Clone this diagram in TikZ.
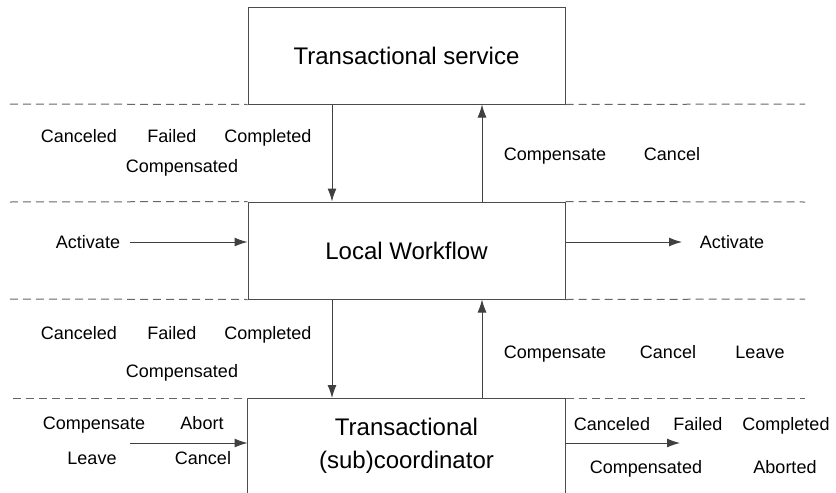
\documentclass[tikz,border=0pt]{standalone}
\usepackage{fontspec}
\setmainfont{Liberation Sans}
\usetikzlibrary{arrows.meta}
\begin{document}
\begin{tikzpicture}[
    x=0.5pt, y=-0.5pt, line width=0.5pt,
    box/.style={draw=black!70, minimum width=158.5pt, minimum height=48.5pt,
      font=\fontsize{12}{16.5}\selectfont},
    lbl/.style={font=\fontsize{9}{11}\selectfont, text height=6.5pt, text depth=0.5pt},
    sep/.style={draw=black!60, dash pattern=on 4pt off 2.5pt},
    flow/.style={draw=black!75, -{Latex[length=6.5pt,width=4.5pt]}}
]
  \useasboundingbox[fill=white] (0,0) rectangle (836,493);

  \node[box] (ts) at (406.5,55.5) {Transactional service};
  \node[box] (lw) at (406.5,250.5) {Local Workflow};
  % open at the bottom, only the top and the sides are drawn
  \node[box, draw=none, anchor=north, minimum height=47.5pt, align=center]
    (tc) at (406.5,398) {Transactional\\(sub)coordinator};
  \draw[draw=black!70] (tc.south west) |- (tc.north east) -- (tc.south east);

  \draw[sep] (10,104) -- (ts.south west) (ts.south east) -- (805,104);
  \draw[sep] (10,202) -- (lw.north west) (lw.north east) -- (805,202);
  \draw[sep] (10,299) -- (lw.south west) (lw.south east) -- (805,299);
  \draw[sep] (13,398) -- (tc.north west) (tc.north east) -- (805,398);

  \coordinate (down) at (332,0);
  \coordinate (up) at (482,0);
  \draw[flow] (down |- ts.south) -- (down |- lw.north);
  \draw[flow] (up |- lw.north) -- (up |- ts.south);
  \draw[flow] (down |- lw.south) -- (down |- tc.north);
  \draw[flow] (up |- tc.north) -- (up |- lw.south);

  \coordinate (in1) at (130,242);
  \coordinate (out1) at (682,242);
  \coordinate (in2) at (130,443);
  \coordinate (out2) at (680,443);
  \draw[flow] (in1) -- (in1 -| lw.west);
  \draw[flow] (out1 -| lw.east) -- (out1);
  \draw[flow] (in2) -- (in2 -| tc.west);
  \draw[flow] (out2 -| tc.east) -- (out2);

  \node[lbl] (c1) at (79,136) {Canceled};
  \node[lbl] (f1) at (172,136) {Failed};
  \node[lbl] (d1) at (268,136) {Completed};
  \node[lbl] (p1) at (182,166) {Compensated};
  \node[lbl] (cs1) at (555,154) {Compensate};
  \node[lbl] (cc1) at (672,154) {Cancel};

  \node[lbl] (a1) at (88,242) {Activate};
  \node[lbl] (a2) at (732,242) {Activate};

  \node[lbl] (c2) at (79,333) {Canceled};
  \node[lbl] (f2) at (172,333) {Failed};
  \node[lbl] (d2) at (268,333) {Completed};
  \node[lbl] (p2) at (182,371) {Compensated};
  \node[lbl] (cs2) at (555,352) {Compensate};
  \node[lbl] (cc2) at (668,352) {Cancel};
  \node[lbl] (lv2) at (760,352) {Leave};

  \node[lbl] (cs3) at (94,423) {Compensate};
  \node[lbl] (ab3) at (202,423) {Abort};
  \node[lbl] (lv3) at (92,458) {Leave};
  \node[lbl] (cc3) at (203,458) {Cancel};

  \node[lbl] (c3) at (612,424) {Canceled};
  \node[lbl] (f3) at (698,424) {Failed};
  \node[lbl] (d3) at (786,424) {Completed};
  \node[lbl] (p3) at (646,467) {Compensated};
  \node[lbl] (ab4) at (785,467) {Aborted};
\end{tikzpicture}
\end{document}
